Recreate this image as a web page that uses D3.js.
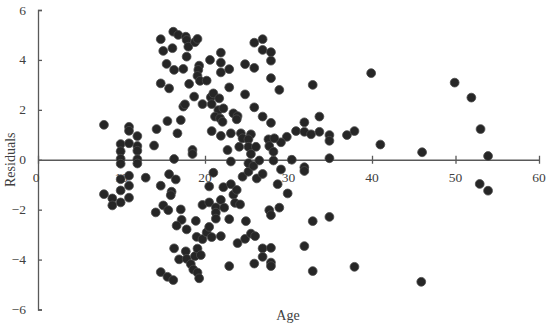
<!DOCTYPE html>
<html>
<head>
<meta charset="utf-8">
<script src="https://cdn.jsdelivr.net/npm/d3@7"></script>
<style>
  body { margin: 0; background: #fff; }
  text { font-family: "Liberation Serif", "Times New Roman", serif; fill: #404040; }
</style>
</head>
<body>
<div class="chart"></div>
<script>
// residuals vs age
const age = [
  7.9, 10.9, 10.9, 11.9, 9.9, 10.9, 11.9, 9.9, 11.9, 9.9, 11.9, 9.9, 11.9, 14.2, 13.9, 14.7, 14.7,
  10.9, 9.9, 12.9, 10.9, 9.9, 7.9, 8.9, 10.9, 9.9, 8.9, 14.1, 14.7, 14.7, 15.0, 15.6, 15.7, 16.5,
  16.0, 15.9, 17.1, 17.2, 16.6, 17.8, 18.9, 19.0, 16.3, 17.7, 16.9, 17.8, 18.8, 19.1, 19.5, 18.3,
  18.6, 19.1, 19.3, 15.5, 16.2, 19.7, 20.5, 19.7, 20.2, 20.5, 20.8, 21.9, 22.9, 23.9, 24.8,
  21.0, 20.5, 22.2, 23.1, 23.4, 23.8, 23.6, 24.2, 24.5, 21.9, 21.3, 22.3, 21.3, 21.3, 22.9,
  16.3, 23.1, 18.5, 18.5,
  24.9, 27.7, 27.9, 28.9, 32.9, 34.9, 25.5, 26.0, 26.9, 27.9, 26.9, 27.9, 27.9, 25.9, 31.9, 32.9, 37.9,
  25.2, 26.2, 26.9, 25.2, 25.8, 29.1, 28.7, 29.9, 31.9, 31.9,
  26.5, 28.2, 30.4, 34.9,
  15.0, 16.1, 16.2, 16.8, 17.7, 17.8, 18.0, 18.8, 19.1, 15.4, 16.3, 17.4, 17.8, 15.7, 18.1, 19.3,
  19.2, 19.1, 19.4, 20.2, 20.6, 21.9, 21.9, 21.9, 22.9, 22.9, 18.7, 17.4, 17.6, 19.7, 20.7, 21.0,
  21.7, 20.8, 21.6, 22.2, 21.2, 21.8, 22.1, 23.4, 23.9, 23.8, 15.5, 17.1, 16.7, 20.8, 21.9, 23.1,
  24.3, 24.5, 24.1, 22.7, 24.8, 24.8,
  25.9, 26.9, 26.9, 27.9, 27.9, 25.9, 27.9, 28.9, 25.9, 26.9, 27.9, 32.9, 31.9, 33.7, 30.9, 31.9,
  32.7, 33.7, 34.9, 34.9, 29.8, 29.1, 27.6, 28.3, 27.7, 28.2, 25.5, 25.2, 25.2, 26.1, 25.5,
  39.9, 37.0, 37.9, 41.0, 46.0, 49.9, 51.9, 53.0, 53.9, 52.9, 53.9, 45.9
];
const residual = [
  1.40, 1.32, 1.16, 0.95, 0.63, 0.66, 0.55, 0.34, 0.36, 0.04, 0.02, -0.16, -0.15, 1.23, 0.57, 4.83, 3.06,
  -0.64, -0.78, -0.72, -1.04, -1.23, -1.38, -1.55, -1.52, -1.71, -1.83, -2.11, -1.04, -4.50, -1.83, -2.02, -0.58, -0.79,
  -1.28, -1.42, -1.99, -2.41, -2.64, -2.79, -2.45, -3.09, -3.55, -3.67, -3.99, -3.97, -3.86, -3.56, -3.82, -4.18,
  -4.40, -4.52, -4.75, -4.69, -4.82, -1.81, -1.71, -3.18, -2.91, -2.69, -3.10, -3.06, -4.26, -3.34, -3.17,
  -0.52, -1.07, -1.10, -0.98, -1.40, -1.21, -1.73, -1.79, -0.68, -1.61, -1.91, -1.92, -2.12, -2.36, -2.38,
  0.03, -0.07, 0.39, 0.23,
  -2.46, -2.02, -2.22, -1.92, -2.46, -2.29, -2.96, -3.06, -3.55, -3.53, -3.89, -4.12, -4.26, -4.16, -3.46, -4.46, -4.29,
  -0.48, -0.75, -0.57, -0.14, -0.25, -0.39, -0.98, -1.35, -0.30, -0.45,
  -0.03, -0.03, 0.00, 0.06,
  4.36, 4.47, 5.13, 5.00, 4.93, 4.80, 4.53, 4.71, 4.84, 3.84, 3.60, 3.64, 4.13, 2.86, 3.04, 3.77,
  3.60, 3.36, 3.16, 3.17, 4.00, 4.29, 3.89, 3.50, 3.63, 2.90, 2.53, 2.13, 2.22, 2.23, 2.50, 2.66,
  2.46, 2.23, 1.99, 2.06, 1.73, 1.66, 1.52, 1.86, 1.75, 1.62, 1.55, 1.59, 1.06, 1.15, 0.96, 1.06,
  1.06, 0.86, 0.52, 0.39, 3.83, 2.62,
  4.69, 4.83, 4.40, 4.31, 3.97, 3.68, 3.27, 2.80, 2.10, 1.73, 1.48, 3.00, 1.50, 1.73, 1.15, 1.12,
  1.02, 1.12, 0.99, 0.76, 0.92, 0.70, 0.82, 0.86, 0.55, 0.32, 1.02, 0.82, 0.52, 0.52, 0.23,
  3.47, 0.99, 1.15, 0.61, 0.30, 3.09, 2.49, 1.23, 0.15, -0.97, -1.24, -4.89
];
const xTicks = [0, 10, 20, 30, 40, 50, 60];
const yTicks = [-6, -4, -2, 0, 2, 4, 6];

const points = age.map((a, i) => ({ age: a, res: residual[i] }));

const width = 550;
const height = 328;

const x = d3.scaleLinear().domain([0, 60]).range([38, 539]);
const y = d3.scaleLinear().domain([-6, 6]).range([309.5, 10]);

const svg = d3
  .select(".chart")
  .append("svg")
  .attr("width", width)
  .attr("height", height);

// y axis on the left, ticks pointing in
const yAxis = svg
  .append("g")
  .attr("transform", `translate(${x(0)},0)`)
  .call(d3.axisRight(y).tickValues(yTicks).tickSize(4).tickFormat(""));

yAxis.selectAll("line, path").attr("stroke", "#595959").attr("stroke-width", 1.3);

svg
  .append("g")
  .selectAll("text")
  .data(yTicks)
  .join("text")
  .attr("x", 26)
  .attr("y", (d) => y(d) + 4.5)
  .attr("text-anchor", "end")
  .style("font-size", "13.5px")
  .text((d) => (d < 0 ? "\u2212" + Math.abs(d) : d));

// x axis sits on the zero line, ticks cross it
const xAxis = svg
  .append("g")
  .attr("transform", `translate(0,${y(0)})`)
  .call(d3.axisBottom(x).tickValues(xTicks).tickSize(0).tickFormat(""));

xAxis.select("path").attr("stroke", "#595959").attr("stroke-width", 1.3);

xAxis
  .selectAll(".tick")
  .append("line")
  .attr("y1", -4)
  .attr("y2", 4)
  .attr("stroke", "#595959")
  .attr("stroke-width", 1.3);

svg
  .append("g")
  .selectAll("text")
  .data(xTicks)
  .join("text")
  .attr("x", (d) => (d === 0 ? x(d) - 2 : x(d)))
  .attr("y", y(0) + 22)
  .attr("text-anchor", "middle")
  .style("font-size", "13.5px")
  .text((d) => d);

// dots
svg
  .append("g")
  .selectAll("circle")
  .data(points)
  .join("circle")
  .attr("cx", (d) => x(d.age))
  .attr("cy", (d) => y(d.res))
  .attr("r", 4.4)
  .attr("fill", "#262626")
  .attr("stroke", "#4a4a4a")
  .attr("stroke-width", 0.8);

// axis titles
svg
  .append("text")
  .attr("x", 288)
  .attr("y", 320)
  .attr("text-anchor", "middle")
  .style("font-size", "14px")
  .text("Age");

svg
  .append("text")
  .attr("transform", `translate(15,${y(0)}) rotate(-90)`)
  .attr("text-anchor", "middle")
  .style("font-size", "14px")
  .text("Residuals");
</script>
</body>
</html>
